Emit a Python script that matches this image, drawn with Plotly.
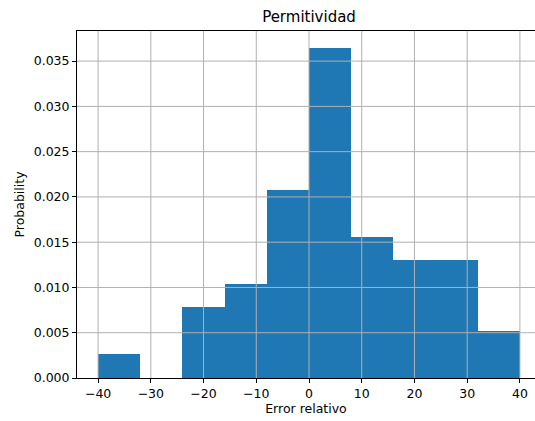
import plotly.graph_objects as go

# Histogram of relative error (density-normalised), bins of width 8
bin_edges = [-40, -32, -24, -16, -8, 0, 8, 16, 24, 32, 40]
density = [0.0026, 0.0, 0.0078, 0.0104, 0.0208, 0.0365, 0.0156, 0.0130, 0.0130, 0.0052]

x_ticks = [-40, -30, -20, -10, 0, 10, 20, 30, 40]
y_ticks = [0.000, 0.005, 0.010, 0.015, 0.020, 0.025, 0.030, 0.035]

centers = [(a + b) / 2 for a, b in zip(bin_edges[:-1], bin_edges[1:])]
widths = [b - a for a, b in zip(bin_edges[:-1], bin_edges[1:])]

fig = go.Figure(
    go.Bar(
        x=centers,
        y=density,
        width=widths,
        marker=dict(color="#1f77b4", line=dict(width=0)),
        hoverinfo="skip",
    )
)

grid_color = "#b0b0b0"
shapes = []
for xv in x_ticks:
    shapes.append(dict(type="line", xref="x", yref="paper", x0=xv, x1=xv, y0=0, y1=1,
                       line=dict(color=grid_color, width=1), layer="above"))
for yv in y_ticks[1:]:
    shapes.append(dict(type="line", xref="paper", yref="y", x0=0, x1=1, y0=yv, y1=yv,
                       line=dict(color=grid_color, width=1), layer="above"))

font = "DejaVu Sans"
fig.update_layout(
    width=535,
    height=421,
    margin=dict(l=77, r=0, t=31, b=43),
    paper_bgcolor="white",
    plot_bgcolor="white",
    bargap=0,
    showlegend=False,
    shapes=shapes,
    font=dict(family=font, size=12.5, color="black"),
    title=dict(text="Permitividad", x=(77 + 541) / 2 / 535, xanchor="center",
               y=1 - 17 / 421, yanchor="middle", font=dict(size=15, family=font, color="black")),
    xaxis=dict(
        range=[-44, 44 - 88 * 6 / 464],
        tickvals=x_ticks,
        ticks="outside", ticklen=4, tickwidth=1, tickcolor="black",
        showline=True, linecolor="black", linewidth=1, mirror=True,
        showgrid=False, zeroline=False,
        title=dict(text="Error relativo", standoff=4, font=dict(size=12.5)),
        layer="above traces",
    ),
    yaxis=dict(
        range=[0, 0.0365 * 1.05],
        tickvals=y_ticks,
        tickformat=".3f",
        ticks="outside", ticklen=4, tickwidth=1, tickcolor="black",
        showline=True, linecolor="black", linewidth=1, mirror=False,
        showgrid=False, zeroline=False,
        title=dict(text="Probability", standoff=6, font=dict(size=12.5)),
        layer="above traces",
    ),
)

fig.write_html("out.html")
